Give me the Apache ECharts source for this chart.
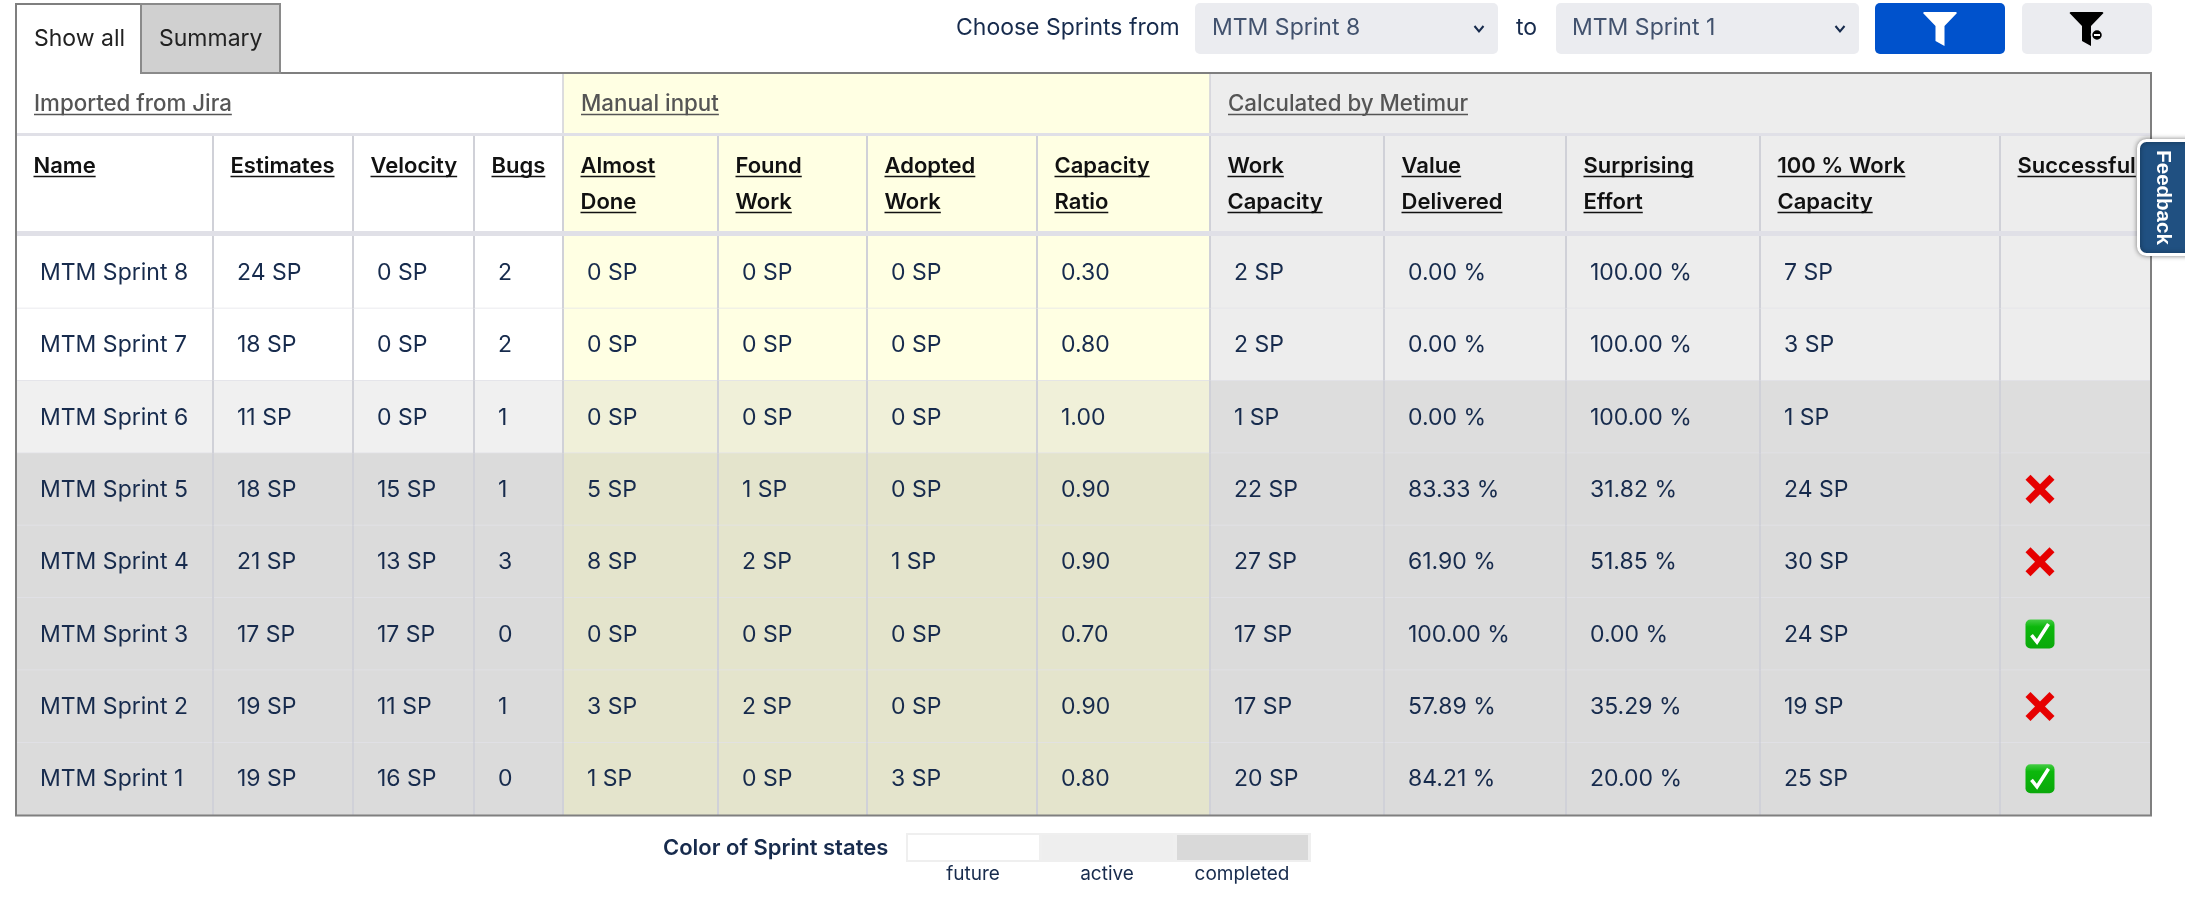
<!DOCTYPE html>
<html>
<head>
<meta charset="utf-8">
<title>Sprints</title>
<script src="https://cdn.jsdelivr.net/npm/echarts@6/dist/echarts.min.js"></script>
<style>
  html, body { margin: 0; padding: 0; background: #fff; }
  #table { width: 2185px; height: 900px; }
</style>
</head>
<body>
<div id="table"></div>
<script>
// table content
var sprintNames = ['MTM Sprint 8', 'MTM Sprint 7', 'MTM Sprint 6', 'MTM Sprint 5', 'MTM Sprint 4', 'MTM Sprint 3', 'MTM Sprint 2', 'MTM Sprint 1'];
var sprintStates = ['future', 'future', 'active', 'completed', 'completed', 'completed', 'completed', 'completed'];
var estimates = ['24 SP', '18 SP', '11 SP', '18 SP', '21 SP', '17 SP', '19 SP', '19 SP'];
var velocity = ['0 SP', '0 SP', '0 SP', '15 SP', '13 SP', '17 SP', '11 SP', '16 SP'];
var bugs = ['2', '2', '1', '1', '3', '0', '1', '0'];
var almostDone = ['0 SP', '0 SP', '0 SP', '5 SP', '8 SP', '0 SP', '3 SP', '1 SP'];
var foundWork = ['0 SP', '0 SP', '0 SP', '1 SP', '2 SP', '0 SP', '2 SP', '0 SP'];
var adoptedWork = ['0 SP', '0 SP', '0 SP', '0 SP', '1 SP', '0 SP', '0 SP', '3 SP'];
var capacityRatio = ['0.30', '0.80', '1.00', '0.90', '0.90', '0.70', '0.90', '0.80'];
var workCapacity = ['2 SP', '2 SP', '1 SP', '22 SP', '27 SP', '17 SP', '17 SP', '20 SP'];
var valueDelivered = ['0.00 %', '0.00 %', '0.00 %', '83.33 %', '61.90 %', '100.00 %', '57.89 %', '84.21 %'];
var surprisingEffort = ['100.00 %', '100.00 %', '100.00 %', '31.82 %', '51.85 %', '0.00 %', '35.29 %', '20.00 %'];
var fullWorkCapacity = ['7 SP', '3 SP', '1 SP', '24 SP', '30 SP', '24 SP', '19 SP', '25 SP'];
var successful = ['', '', '', 'no', 'no', 'yes', 'no', 'yes'];

var columnHeaders = ['Name', 'Estimates', 'Velocity', 'Bugs', 'Almost\nDone', 'Found\nWork', 'Adopted\nWork', 'Capacity\nRatio', 'Work\nCapacity', 'Value\nDelivered', 'Surprising\nEffort', '100 % Work\nCapacity', 'Successful'];
var sectionLabels = ['Imported from Jira', 'Manual input', 'Calculated by Metimur'];
var sectionStartCols = [0, 4, 8];
var stateLabels = ['future', 'active', 'completed'];

var columns = [sprintNames, estimates, velocity, bugs, almostDone, foundWork, adoptedWork, capacityRatio, workCapacity, valueDelivered, surprisingEffort, fullWorkCapacity, successful];

// layout (x is measured from the table's left edge)
var colEdges = [0, 197, 337, 458, 547, 702, 851, 1021, 1194, 1368, 1550, 1744, 1984, 2135];
var FONT = 'Inter, "Noto Sans", sans-serif';
var TEXT = '#172b4d';
var LINE = '#d0d1d8';

var fills = {
  future: ['#ffffff', '#ffffe3', '#ededed'],
  active: ['#f0f0f0', '#f0f0d9', '#dddddd'],
  completed: ['#dbdbdb', '#e4e4cc', '#dbdbdb']
};

function sectionOf(col) {
  return col < 4 ? 0 : col < 8 ? 1 : 2;
}

var measureCtx = document.createElement('canvas').getContext('2d');
function textWidth(str, font) {
  measureCtx.font = font;
  return measureCtx.measureText(str).width;
}

var cells = [];
columns.forEach(function (values, c) {
  values.forEach(function (v, r) {
    cells.push({ value: [c, r], text: v });
  });
});

function iconShapes(kind, cx, cy) {
  if (kind === 'no') {
    return [
      { type: 'line', shape: { x1: cx - 12, y1: cy - 12, x2: cx + 12, y2: cy + 12 }, style: { stroke: '#e60000', lineWidth: 7 } },
      { type: 'line', shape: { x1: cx - 12, y1: cy + 12, x2: cx + 12, y2: cy - 12 }, style: { stroke: '#e60000', lineWidth: 7 } }
    ];
  }
  return [
    { type: 'rect', shape: { x: cx - 14.5, y: cy - 14.5, width: 29, height: 29, r: 5 }, style: {
      fill: new echarts.graphic.LinearGradient(0, 0, 0, 1, [{ offset: 0, color: '#45cc45' }, { offset: 0.25, color: '#0cb80c' }, { offset: 1, color: '#0aa80a' }]) } },
    { type: 'polyline', shape: { points: [[cx - 8.5, cy + 1], [cx - 3, cy + 8], [cx + 8.5, cy - 10]] }, style: { stroke: '#fff', fill: null, lineWidth: 3.5 } }
  ];
}

function renderCell(params, api) {
  var c = api.value(0), r = api.value(1);
  var x0 = api.coord([colEdges[c], r])[0];
  var x1 = api.coord([colEdges[c + 1], r])[0];
  var cy = api.coord([0, r])[1];
  var h = api.size([0, 1])[1];
  var top = cy - h / 2;
  var cell = cells[params.dataIndex];
  var children = [
    { type: 'rect', shape: { x: x0, y: top, width: x1 - x0, height: h }, style: { fill: fills[sprintStates[r]][sectionOf(c)] } },
    { type: 'line', shape: { x1: x0, y1: top + h, x2: x1, y2: top + h }, style: { stroke: r < 7 ? '#e2e2e8' : 'transparent', lineWidth: 1.5 } }
  ];
  if (c > 0) {
    children.push({ type: 'line', shape: { x1: x0, y1: top, x2: x0, y2: top + h }, style: { stroke: LINE, lineWidth: 2 } });
  }
  if (c === 12) {
    if (cell.text) children = children.concat(iconShapes(cell.text, x0 + 40, cy));
  } else {
    children.push({ type: 'text', style: { text: cell.text, x: x0 + 24, y: cy + 0.7, fill: TEXT, font: '400 23px ' + FONT, textVerticalAlign: 'middle' } });
  }
  return { type: 'group', children: children };
}

function underlined(str, x, y, font, color) {
  return [
    { type: 'text', style: { text: str, x: x, y: y, fill: color, font: font, textVerticalAlign: 'middle' } },
    { type: 'line', shape: { x1: x, y1: y + 10, x2: x + textWidth(str, font), y2: y + 10 }, style: { stroke: color, lineWidth: 1.6 } }
  ];
}

// header cells: first the three sections, then one cell per column
var headerCells = sectionLabels.map(function (s, i) { return { value: [i, 0], kind: 'section' }; })
  .concat(columnHeaders.map(function (s, i) { return { value: [i, 1], kind: 'column' }; }));

function renderHeader(params, api) {
  var i = api.value(0);
  var item = headerCells[params.dataIndex];
  var children = [];
  if (item.kind === 'section') {
    var startCol = sectionStartCols[i];
    var endCol = i < 2 ? sectionStartCols[i + 1] : 13;
    var a = api.coord([colEdges[startCol], 0]);
    var b = api.coord([colEdges[endCol], 59]);
    children.push({ type: 'rect', shape: { x: a[0], y: a[1], width: b[0] - a[0], height: b[1] - a[1] }, style: { fill: fills.future[i] } });
    children.push({ type: 'rect', shape: { x: a[0], y: b[1], width: b[0] - a[0], height: 3 }, style: { fill: '#e0e0e7' } });
    if (i > 0) children.push({ type: 'line', shape: { x1: a[0], y1: a[1], x2: a[0], y2: b[1] }, style: { stroke: LINE, lineWidth: 1.5 } });
    children = children.concat(underlined(sectionLabels[i], a[0] + 18, a[1] + 30.5, '500 22.3px ' + FONT, '#555'));
  } else {
    var p = api.coord([colEdges[i], 62]);
    var q = api.coord([colEdges[i + 1], 157]);
    children.push({ type: 'rect', shape: { x: p[0], y: p[1], width: q[0] - p[0], height: q[1] - p[1] }, style: { fill: fills.future[sectionOf(i)] } });
    children.push({ type: 'rect', shape: { x: p[0], y: q[1], width: q[0] - p[0], height: 5 }, style: { fill: '#e0e0e7' } });
    if (i > 0) children.push({ type: 'line', shape: { x1: p[0], y1: p[1], x2: p[0], y2: q[1] }, style: { stroke: LINE, lineWidth: 2 } });
    columnHeaders[i].split('\n').forEach(function (line, k) {
      children = children.concat(underlined(line, p[0] + 17.5, p[1] + 30.5 + k * 36, '600 22px ' + FONT, '#111'));
    });
  }
  return { type: 'group', children: children };
}

function funnel(cx, top, color) {
  return { type: 'polygon', z: 21, shape: { points: [[cx - 17, top + 1], [cx - 16, top], [cx + 16, top], [cx + 17, top + 1], [cx + 4.5, top + 14], [cx + 4.5, top + 34], [cx - 4.5, top + 29], [cx - 4.5, top + 14]] }, style: { fill: color } };
}
function chevron(cx, cy) {
  return { type: 'polyline', z: 21, shape: { points: [[cx - 4.5, cy - 3], [cx, cy + 2.5], [cx + 4.5, cy - 3]] }, style: { stroke: TEXT, fill: null, lineWidth: 2 } };
}
function label(str, x, y, font, color, align) {
  return { type: 'text', z: 20, style: { text: str, x: x, y: y, font: font, fill: color, textAlign: align || 'left', textVerticalAlign: 'middle' } };
}
function box(x, y, w, h, fill, stroke, r) {
  return { type: 'rect', z: 20, shape: { x: x, y: y, width: w, height: h, r: r || 0 }, style: { fill: fill, stroke: stroke || null, lineWidth: stroke ? 2 : 0 } };
}

var chart = echarts.init(document.getElementById('table'));

var legendX = [906, 1040, 1175];
var legendFills = ['#ffffff', '#eeeeee', '#d9d9d9'];

var feedbackBox = box(2138.5, 140.5, 60, 114, '#205081', '#ffffff', 8);
feedbackBox.style.lineWidth = 3;
feedbackBox.style.shadowBlur = 5;
feedbackBox.style.shadowColor = 'rgba(0,0,0,0.4)';

var topBar = [
  // tabs and table frame
  box(141, 4, 139, 69, '#d0d0d0', '#8a8a8a'),
  { type: 'polyline', z: 19, shape: { points: [[141, 73], [141, 4], [16, 4], [16, 815.5], [2151, 815.5], [2151, 73], [141, 73]] }, style: { stroke: '#7f7f7f', fill: null, lineWidth: 2 } },
  label('Show all', 34, 39, '400 23px ' + FONT, '#222'),
  label('Summary', 159, 39, '400 23px ' + FONT, '#222'),
  // sprint range picker
  label('Choose Sprints from', 956, 28, '400 23px ' + FONT, TEXT),
  box(1195, 3, 303, 51, '#ebecf0', null, 5),
  label('MTM Sprint 8', 1212, 28, '400 23px ' + FONT, '#42526e'),
  chevron(1479, 29),
  label('to', 1516, 28, '400 23px ' + FONT, TEXT),
  box(1556, 3, 303, 51, '#ebecf0', null, 5),
  label('MTM Sprint 1', 1572, 28, '400 23px ' + FONT, '#42526e'),
  chevron(1840, 29),
  box(1875, 3, 130, 51, '#0052cc', null, 5),
  funnel(1940, 12, '#ffffff'),
  box(2022, 3, 130, 51, '#ebecf0', null, 5),
  funnel(2086.5, 12, '#000000'),
  { type: 'circle', z: 22, shape: { cx: 2097, cy: 35, r: 5.5 }, style: { fill: '#000', stroke: '#ebecf0', lineWidth: 1.5 } },
  { type: 'rect', z: 23, shape: { x: 2094, y: 34, width: 6, height: 2 }, style: { fill: '#fff' } },
  // feedback tab
  feedbackBox,
  { type: 'text', z: 21, x: 2163, y: 197.5, rotation: -Math.PI / 2, style: { text: 'Feedback', x: 0, y: 0, font: '700 20.5px "Liberation Sans", sans-serif', fill: '#fff', textAlign: 'center', textVerticalAlign: 'middle' } },
  // sprint state legend
  label('Color of Sprint states', 663, 848, '600 22px ' + FONT, TEXT),
  box(906, 833, 405, 29, '#efefef')
];
stateLabels.forEach(function (s, i) {
  topBar.push(box(legendX[i] + 2, 835, 131, 25, legendFills[i]));
  topBar.push(label(s, legendX[i] + 67, 874, '400 19px ' + FONT, TEXT, 'center'));
});

chart.setOption({
  animation: false,
  backgroundColor: '#ffffff',
  tooltip: { show: false },
  grid: [
    { left: 16, top: 236, width: 2135, height: 579 },
    { left: 16, top: 74, width: 2135, height: 162 }
  ],
  xAxis: [
    { gridIndex: 0, type: 'value', min: 0, max: 2135, show: false },
    { gridIndex: 1, type: 'value', min: 0, max: 2135, show: false }
  ],
  yAxis: [
    { gridIndex: 0, type: 'category', data: sprintNames, inverse: true, show: false },
    { gridIndex: 1, type: 'value', min: 0, max: 162, inverse: true, show: false }
  ],
  series: [
    { type: 'custom', name: 'cells', xAxisIndex: 0, yAxisIndex: 0, clip: false, silent: true, renderItem: renderCell, data: cells },
    { type: 'custom', name: 'headers', xAxisIndex: 1, yAxisIndex: 1, clip: false, silent: true, renderItem: renderHeader, data: headerCells }
  ],
  graphic: { elements: topBar }
});
</script>
</body>
</html>
